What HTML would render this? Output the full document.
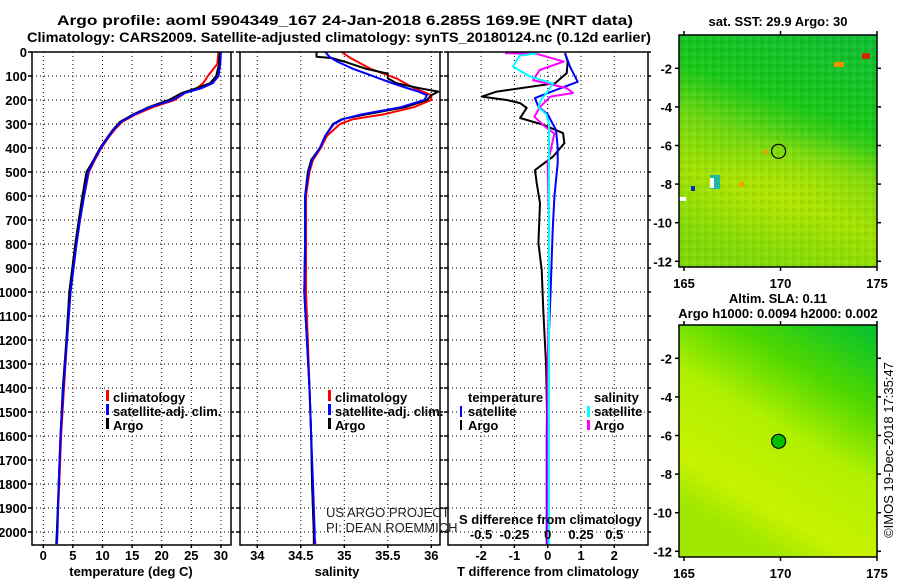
<!DOCTYPE html>
<html><head><meta charset="utf-8">
<style>
html,body{margin:0;padding:0;background:#fff;}
svg{display:block;font-family:"Liberation Sans",Arial,sans-serif;}
.b{font-weight:bold;font-size:13px;fill:#000;}
.t{font-weight:bold;font-size:14px;fill:#000;}
.grid{stroke:#000;stroke-width:1;stroke-dasharray:1,3;}
.frame{fill:none;stroke:#000;stroke-width:1.5;}
.ln{fill:none;stroke-width:2;stroke-linejoin:round;}
</style></head>
<body>
<svg id="chart" width="900" height="580" viewBox="0 0 900 580">
<defs>
<linearGradient id="sstg" x1="0.7" y1="0" x2="0.4" y2="1">
<stop offset="0" stop-color="#10c030"/><stop offset="0.3" stop-color="#18c818"/><stop offset="0.5" stop-color="#70d810"/><stop offset="0.7" stop-color="#a0e200"/><stop offset="1" stop-color="#80da08"/>
</linearGradient>
<linearGradient id="slag" x1="1" y1="0" x2="0.5" y2="1">
<stop offset="0" stop-color="#00c030"/><stop offset="0.3" stop-color="#50d800"/><stop offset="0.55" stop-color="#b0f000"/><stop offset="0.85" stop-color="#c8f200"/><stop offset="1" stop-color="#a0e800"/>
</linearGradient>
<radialGradient id="sstspot" cx="0.5" cy="0.5" r="0.5"><stop offset="0" stop-color="#c0e800" stop-opacity="0.6"/><stop offset="1" stop-color="#c0e800" stop-opacity="0"/></radialGradient>
<clipPath id="m1clip"><rect x="679" y="35" width="198" height="232"/></clipPath>
<pattern id="tex" width="8" height="8" patternUnits="userSpaceOnUse">
<rect x="0" y="0" width="4" height="4" fill="#000" fill-opacity="0.05"/><rect x="4" y="4" width="4" height="4" fill="#fff" fill-opacity="0.06"/>
</pattern>
</defs>

<text class="t" x="345" y="25" text-anchor="middle" textLength="576" lengthAdjust="spacingAndGlyphs">Argo profile: aoml 5904349_167 24-Jan-2018 6.285S 169.9E (NRT data)</text>
<text class="t" x="339" y="42" text-anchor="middle" textLength="624" lengthAdjust="spacingAndGlyphs">Climatology: CARS2009. Satellite-adjusted climatology: synTS_20180124.nc (0.12d earlier)</text>

<g id="grids"></g>
<g id="series"></g>
<g id="axes"></g>

<g>
<rect x="106" y="390" width="3" height="11" fill="#f00"/><text class="b" x="113" y="402">climatology</text>
<rect x="106" y="404" width="3" height="11" fill="#00f"/><text class="b" x="113" y="416">satellite-adj. clim.</text>
<rect x="106" y="418" width="3" height="11" fill="#000"/><text class="b" x="113" y="430">Argo</text>
</g>
<g>
<rect x="328" y="390" width="3" height="11" fill="#f00"/><text class="b" x="335" y="402">climatology</text>
<rect x="328" y="404" width="3" height="11" fill="#00f"/><text class="b" x="335" y="416">satellite-adj. clim.</text>
<rect x="328" y="418" width="3" height="11" fill="#000"/><text class="b" x="335" y="430">Argo</text>
</g>
<text x="326" y="517" font-size="13" fill="#222">US ARGO PROJECT</text>
<text x="326" y="532" font-size="13" fill="#222">PI: DEAN ROEMMICH</text>
<g>
<text class="b" x="468" y="402">temperature</text>
<rect x="460" y="406" width="2" height="11" fill="#00f"/><text class="b" x="468" y="416">satellite</text>
<rect x="460" y="420" width="2" height="10" fill="#000"/><text class="b" x="468" y="430">Argo</text>
<text class="b" x="594" y="402">salinity</text>
<rect x="587" y="406" width="3" height="11" fill="#0ff"/><text class="b" x="594" y="416">satellite</text>
<rect x="587" y="420" width="3" height="10" fill="#f0f"/><text class="b" x="594" y="430">Argo</text>
</g>
<text class="b" x="459" y="524">S difference from climatology</text>

<g>
<text class="b" x="778" y="26" text-anchor="middle">sat. SST: 29.9 Argo: 30</text>
<g clip-path="url(#m1clip)">
<rect x="679" y="35" width="198" height="232" fill="url(#sstg)"/>
<ellipse cx="790" cy="190" rx="120" ry="55" fill="url(#sstspot)"/>
<rect x="679" y="35" width="198" height="232" fill="url(#tex)"/>
</g>
<rect x="862" y="53" width="8" height="6" fill="#c83000"/><rect x="834" y="62" width="10" height="5" fill="#f09000"/>
<rect x="739" y="182" width="5" height="5" fill="#f0a000"/><rect x="764" y="150" width="4" height="4" fill="#f0a000"/>
<rect x="710" y="175" width="10" height="14" fill="#20b8a0"/><rect x="710" y="178" width="4" height="10" fill="#fff"/>
<rect x="691" y="186" width="4" height="5" fill="#0030c0"/><rect x="679" y="197" width="7" height="4" fill="#fff"/>
<circle cx="778.6" cy="151.3" r="7" fill="none" stroke="#000" stroke-width="1.2"/>
<rect x="679" y="35" width="198" height="232" class="frame"/>
</g>
<g>
<text class="b" x="778" y="303" text-anchor="middle">Altim. SLA: 0.11</text>
<text class="b" x="778" y="318" text-anchor="middle">Argo h1000: 0.0094 h2000: 0.002</text>
<rect x="679" y="325" width="198" height="232" fill="url(#slag)"/>
<circle cx="778.6" cy="441.3" r="7" fill="#00c000" stroke="#000" stroke-width="1.2"/>
<rect x="679" y="325" width="198" height="232" class="frame"/>
</g>
<text x="893" y="450" font-size="13" fill="#000" text-anchor="middle" transform="rotate(-90 893 450)">©IMOS 19-Dec-2018 17:35:47</text>

<text class="b" x="131" y="576" text-anchor="middle">temperature (deg C)</text>
<text class="b" x="337" y="576" text-anchor="middle">salinity</text>
<text class="b" x="548" y="576" text-anchor="middle">T difference from climatology</text>
</svg>
<script>
// ---- data ----
const depthTicks = [0,100,200,300,400,500,600,700,800,900,1000,1100,1200,1300,1400,1500,1600,1700,1800,1900,2000];
const tempTicks = [0,5,10,15,20,25,30];
const salTicks = [34,34.5,35,35.5,36];
const tdiffTicks = [-2,-1,0,1,2];
const sdiffTicks = [-0.5,-0.25,0,0.25,0.5];
const sdiffTickLabels = ["-0.5","-0.25","0","0.25","0.5"];
const lonTicks = [165,170,175];
const latTicks = [-2,-4,-6,-8,-10,-12];

const profDepth = [0,50,100,130,150,170,200,230,260,290,320,350,400,450,500,600,700,800,900,1000,1200,1400,1600,1800,2000,2050];
const tempArgo  = [29.8,29.7,29.2,28.2,26.0,23.5,21.2,17.8,15.2,13.0,11.9,11.0,9.6,8.5,7.3,6.6,6.0,5.4,4.9,4.4,3.9,3.3,2.9,2.6,2.3,2.2];
const tempClim  = [29.6,29.4,27.8,27.0,26.0,24.0,22.2,18.5,15.6,13.4,12.2,11.2,9.8,8.7,7.7,6.9,6.2,5.6,5.1,4.6,4.0,3.5,3.0,2.7,2.3,2.2];
const tempSat   = [30.0,29.9,29.6,28.6,26.8,24.0,21.8,18.0,15.4,13.2,12.0,11.1,9.7,8.6,7.6,6.9,6.2,5.6,5.1,4.6,4.0,3.4,2.9,2.6,2.4,2.3];

const salDepth = [0,20,25,40,70,90,110,130,150,165,180,200,230,260,280,300,350,400,450,500,600,800,1000,1200,1400,1600,1800,2000,2050];
const salArgo  = [34.68,34.68,34.85,35.0,35.25,35.5,35.5,35.6,35.85,36.08,36.0,35.95,35.7,35.25,34.97,34.87,34.78,34.72,34.62,34.58,34.55,34.55,34.54,34.57,34.6,34.62,34.63,34.65,34.65];
const salClim  = [34.97,35.05,35.07,35.15,35.3,35.45,35.6,35.7,35.8,35.9,36.0,36.0,35.8,35.45,35.1,34.95,34.8,34.73,34.64,34.6,34.56,34.56,34.56,34.58,34.6,34.62,34.63,34.65,34.67];
const salSat   = [34.78,34.83,34.85,34.92,35.1,35.25,35.4,35.55,35.72,35.85,35.95,35.92,35.65,35.2,34.98,34.88,34.78,34.72,34.63,34.59,34.55,34.55,34.54,34.57,34.6,34.62,34.64,34.66,34.66];

const tdDepth = [5,40,88,130,165,186,200,213,233,275,303,338,380,436,492,546,630,796,908,1088,1296,1500,2050];
const tdArgo  = [0.52,0.6,0.57,0.22,-1.53,-1.98,-1.23,-0.83,-0.63,-0.83,-0.14,0.46,0.5,0.16,-0.38,-0.33,-0.23,-0.28,-0.18,-0.13,-0.05,-0.02,-0.02];
const tsDepth = [5,61,124,158,192,228,260,325,395,463,603,742,1020,1300,1600,2050];
const tdSat   = [0.52,0.67,0.9,0.25,-0.38,-0.28,0.0,0.25,0.3,0.3,0.2,0.15,0.08,0.0,-0.03,-0.03];
const sdDepth = [5,8,40,75,117,150,171,186,230,270,311,340,463,700,1000,1300,2050];
const sdArgo  = [-0.32,-0.08,0.12,-0.06,-0.11,0.14,0.19,0.02,-0.06,-0.1,-0.02,0.05,0.0,0.01,0.01,0.0,0.0];
const ssDepth = [5,15,61,103,131,165,200,230,260,300,500,1000,1500,2050];
const sdSat   = [-0.08,-0.21,-0.26,-0.13,0.04,0.0,-0.05,-0.07,-0.01,0.01,0.01,0.01,0.01,0.01];

// ---- scales ----
const Y = d => 52 + d*0.24;
const PT = {l:32,r:231}, PS = {l:240,r:440}, PD = {l:448,r:648};
const yTop = 52, yBot = 545;
const XT = v => 43.3 + v*5.92;
const XS = v => 257.3 + (v-34)*87;
const XTD = v => 547.7 + v*33.3;
const XSD = v => 547.7 + v*133.3;
const MX = lon => 684 + (lon-165)*19.3;
const MY1 = lat => 68.3 + (-2-lat)*19.3;
const MY2 = lat => 358.3 + (-2-lat)*19.3;

const NS = "http://www.w3.org/2000/svg";
function mk(tag, parent, attrs){const e=document.createElementNS(NS,tag);for(const k in attrs)e.setAttribute(k,attrs[k]);parent.appendChild(e);return e;}
const grids = document.getElementById('grids'), series = document.getElementById('series'), axes = document.getElementById('axes');

function panelGrid(P, xticks, X){
  depthTicks.forEach(d=>{ if(d===0) return; const l=mk('line',grids,{x1:P.l,x2:P.r,y1:Y(d),y2:Y(d),class:'grid'});   });
  xticks.forEach(v=>{ const l=mk('line',grids,{x1:X(v),x2:X(v),y1:yTop,y2:yBot,class:'grid'});   });
  const f=mk('rect',axes,{x:P.l,y:yTop,width:P.r-P.l,height:yBot-yTop,class:'frame'});
   
  depthTicks.forEach(d=>{ mk('line',axes,{x1:P.l-4,x2:P.l,y1:Y(d),y2:Y(d),stroke:'#000','stroke-width':1.5}); mk('line',axes,{x1:P.r,x2:P.r+3,y1:Y(d),y2:Y(d),stroke:'#000','stroke-width':1.5}); });
  xticks.forEach(v=>{ mk('line',axes,{x1:X(v),x2:X(v),y1:yBot,y2:yBot+3,stroke:'#000','stroke-width':1.5}); });
}
panelGrid(PT,tempTicks,XT); panelGrid(PS,salTicks,XS); panelGrid(PD,tdiffTicks,XTD);

depthTicks.forEach(d=>{ const t=mk('text',axes,{x:27,y:Y(d)+5,class:'b','text-anchor':'end'}); t.textContent=d;   });
function xlabels(ticks,X,y,labels){ ticks.forEach((v,i)=>{ const t=mk('text',axes,{x:X(v),y:y,class:'b','text-anchor':'middle'}); t.textContent=labels?labels[i]:v;   }); }
xlabels(tempTicks,XT,560); xlabels(salTicks,XS,560); xlabels(tdiffTicks,XTD,560); xlabels(sdiffTicks,XSD,539,sdiffTickLabels);

function line(xs, ds, X, color, name){
  const pts = ds.map((d,i)=>X(xs[i]).toFixed(1)+','+Y(d).toFixed(1)).join(' ');
  const p = mk('polyline',series,{points:pts,class:'ln',stroke:color});
  
  
}
line(tempClim,profDepth,XT,'#f00','temp-climatology-line');
line(tempArgo,profDepth,XT,'#000','temp-argo-line');
line(tempSat,profDepth,XT,'#00f','temp-satellite-line');
line(salClim,salDepth,XS,'#f00','sal-climatology-line');
line(salArgo,salDepth,XS,'#000','sal-argo-line');
line(salSat,salDepth,XS,'#00f','sal-satellite-line');
line(tdArgo,tdDepth,XTD,'#000','tdiff-argo-line');
line(tdSat,tsDepth,XTD,'#00f','tdiff-satellite-line');
line(sdArgo,sdDepth,XSD,'#f0f','sdiff-argo-line');
line(sdSat,ssDepth,XSD,'#0ff','sdiff-satellite-line');

function mapAxes(MY, top, bot, lonY){
  latTicks.forEach(v=>{ const y=MY(v); mk('line',axes,{x1:675,x2:679,y1:y,y2:y,stroke:'#000','stroke-width':1.5}); mk('line',axes,{x1:877,x2:881,y1:y,y2:y,stroke:'#000','stroke-width':1.5});
    const t=mk('text',axes,{x:672,y:y+5,class:'b','text-anchor':'end'}); t.textContent=v;   });
  lonTicks.forEach(v=>{ const x=MX(v); mk('line',axes,{x1:x,x2:x,y1:bot,y2:bot+4,stroke:'#000','stroke-width':1.5}); mk('line',axes,{x1:x,x2:x,y1:top-4,y2:top,stroke:'#000','stroke-width':1.5});
    const t=mk('text',axes,{x:x,y:lonY,class:'b','text-anchor':'middle'}); t.textContent=v;   });
}
mapAxes(MY1,35,267,288); mapAxes(MY2,325,557,578);
</script>
</body></html>
